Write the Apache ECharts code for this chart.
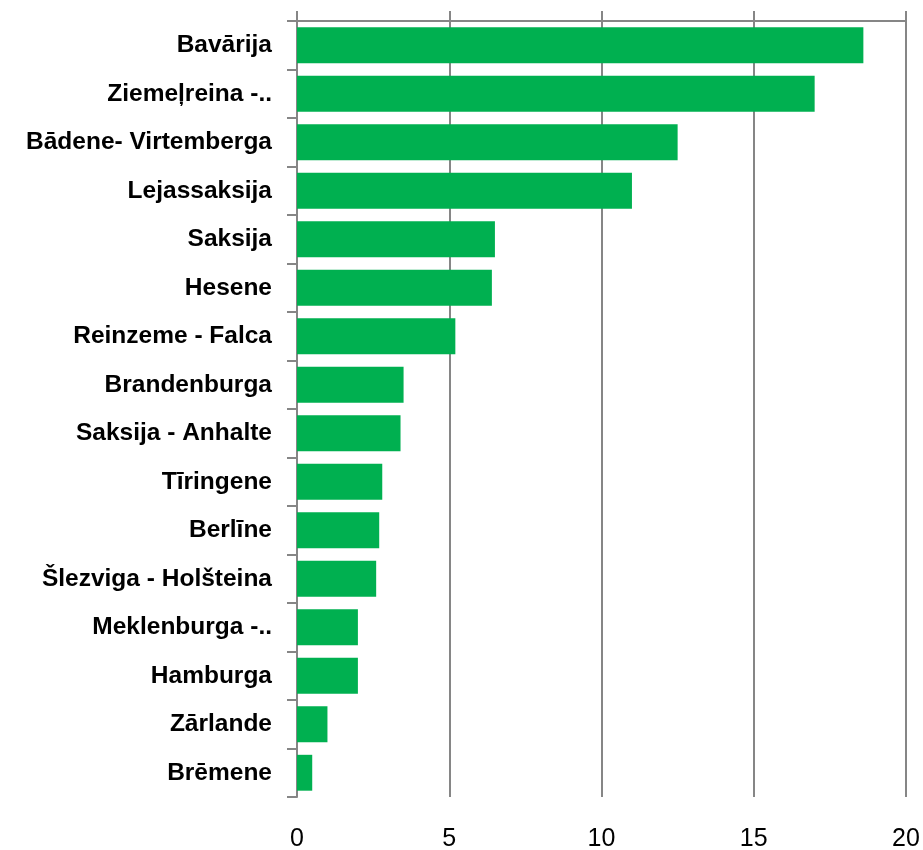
<!DOCTYPE html>
<html>
<head>
<meta charset="utf-8">
<script src="https://cdn.jsdelivr.net/npm/echarts@6/dist/echarts.min.js"></script>
<style>
html,body{margin:0;padding:0;background:#fff;}
#chart{width:923px;height:850px;}
</style>
</head>
<body>
<div id="chart"></div>
<script>
const categories = ["Bavārija","Ziemeļreina -..","Bādene- Virtemberga","Lejassaksija","Saksija","Hesene","Reinzeme - Falca","Brandenburga","Saksija - Anhalte","Tīringene","Berlīne","Šlezviga - Holšteina","Meklenburga -..","Hamburga","Zārlande","Brēmene"];
const values = [18.6,17.0,12.5,11.0,6.5,6.4,5.2,3.5,3.4,2.8,2.7,2.6,2.0,2.0,1.0,0.5];
const xTicks = {min:0,max:20,interval:5};

const gray = '#868686';
const chart = echarts.init(document.getElementById('chart'));
chart.setOption({
  animation:false,
  backgroundColor:'#fff',
  grid:{left:297,right:17,top:21,bottom:53,containLabel:false,outerBoundsMode:'none'},
  xAxis:[
    {type:'value',position:'top',min:xTicks.min,max:xTicks.max,interval:xTicks.interval,
     axisLine:{show:true,lineStyle:{color:gray,width:2}},
     axisTick:{show:true,length:10,lineStyle:{color:gray,width:2}},
     axisLabel:{show:false},
     splitLine:{show:true,lineStyle:{color:gray,width:2}}},
    {type:'value',position:'bottom',min:xTicks.min,max:xTicks.max,interval:xTicks.interval,
     axisLine:{show:false},axisTick:{show:false},splitLine:{show:false},
     axisLabel:{show:true,color:'#000',fontSize:25,fontFamily:'Liberation Sans, Arial, sans-serif',margin:30}}
  ],
  yAxis:{type:'category',inverse:true,data:categories,
     axisLine:{show:true,lineStyle:{color:gray,width:2}},
     axisTick:{show:true,length:10,interval:0,lineStyle:{color:gray,width:2}},
     axisLabel:{show:true,interval:0,color:'#000',fontSize:24.5,fontWeight:'bold',fontFamily:'Liberation Sans, Arial, sans-serif',margin:25},
     splitLine:{show:false}},
  series:[{type:'bar',xAxisIndex:0,data:values,barCategoryGap:'26%',itemStyle:{color:'#00B050'},z:1}]
});
</script>
</body>
</html>
